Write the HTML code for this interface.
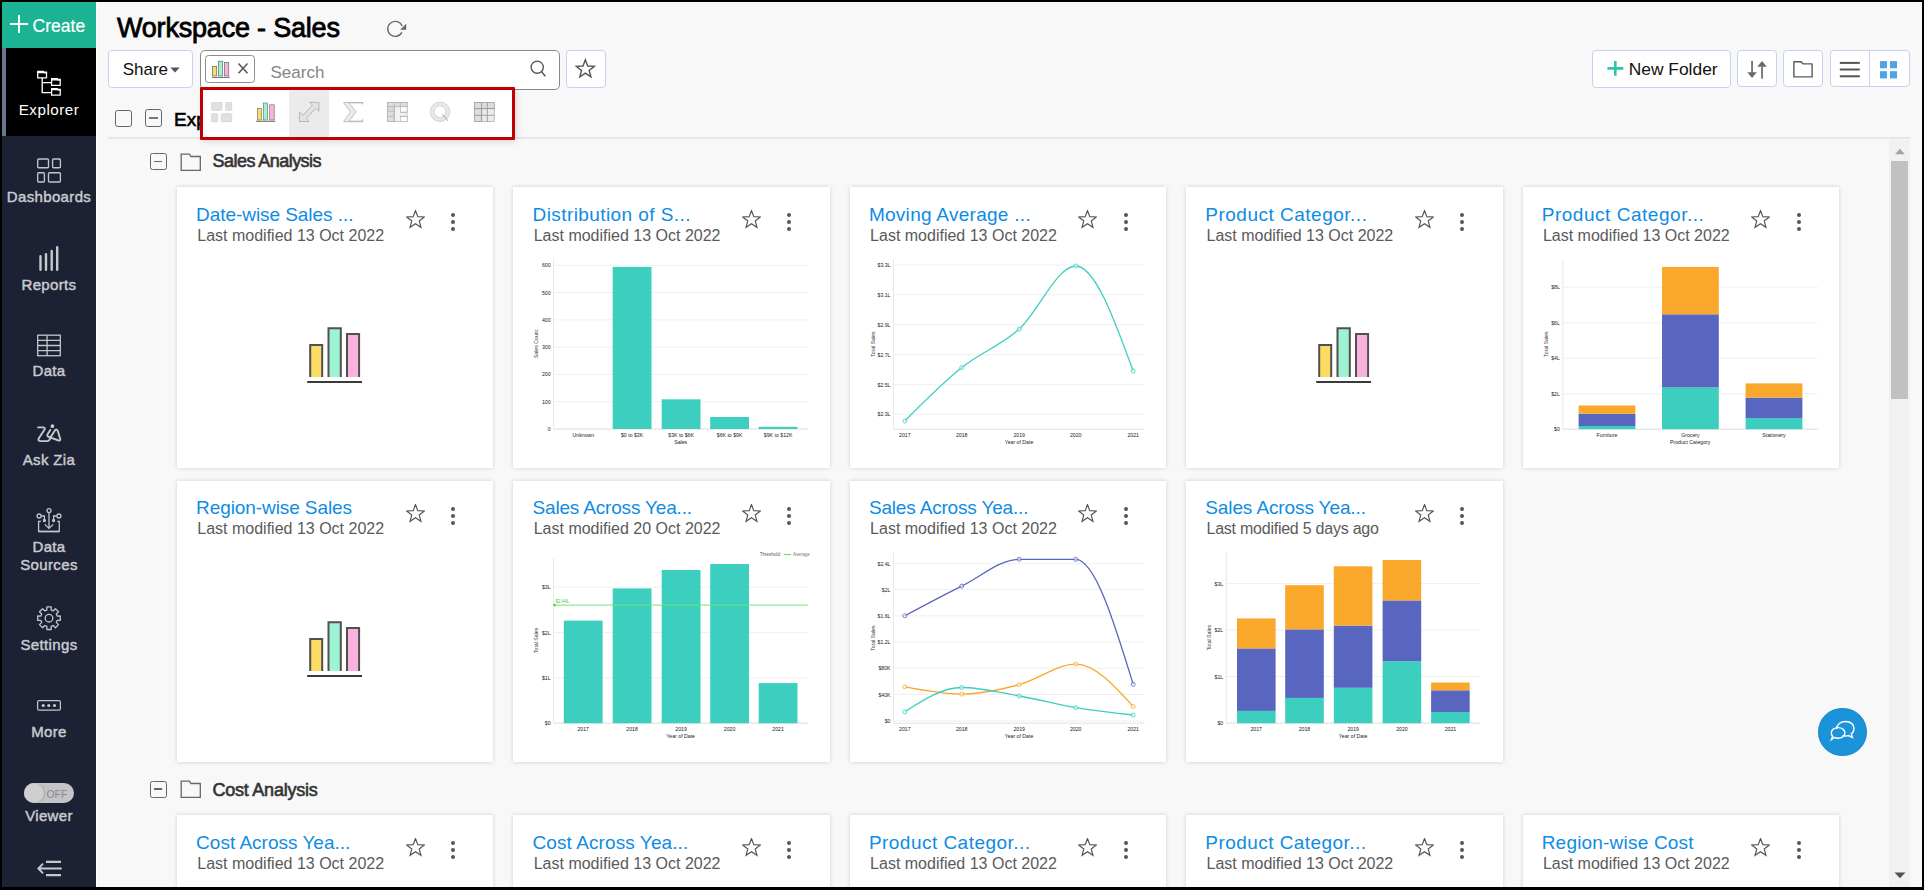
<!DOCTYPE html>
<html><head><meta charset="utf-8"><title>Workspace - Sales</title>
<style>
*{box-sizing:border-box;margin:0;padding:0}
html,body{width:1924px;height:890px;overflow:hidden;background:#000;font-family:"Liberation Sans",Arial,sans-serif}
#app{position:absolute;left:2px;top:2px;width:1920px;height:885px;background:#f8f8f8;overflow:hidden}
.a{position:absolute}
.t{position:absolute;line-height:1;white-space:nowrap}
svg{display:block}
/* sidebar */
#side{position:absolute;left:0;top:0;width:94px;height:885px;background:#1c2133}
#create{position:absolute;left:0;top:0;width:94px;height:46px;background:#1bb394}
#active{position:absolute;left:0;top:46px;width:94px;height:88px;background:#000}
#active b{position:absolute;left:0;top:0;width:4px;height:88px;background:#66788c}
.sl{position:absolute;left:0;width:94px;text-align:center;font-size:15px;letter-spacing:0.35px;line-height:1;color:#c9cbd0;white-space:nowrap;margin-top:0.1px;-webkit-text-stroke:0.45px currentColor}
/* buttons */
.btn{position:absolute;background:#fff;border:1px solid #c5d0ea;border-radius:4px}
/* cards */
.card{position:absolute;width:316.4px;height:281px;background:#fff;box-shadow:0 0 4px rgba(0,0,0,.17)}
.ct{position:absolute;left:19.1px;top:17.7px;font-size:19px;line-height:1;color:#0e8ce4;white-space:nowrap}
.cs{position:absolute;left:20.3px;top:40.5px;font-size:16px;line-height:1;color:#5a5a5a;white-space:nowrap}
.star{position:absolute;left:228.5px;top:23px}
.dots{position:absolute;left:274px;top:25.5px;width:4px;height:19px}
.dots i{display:block;width:4px;height:4px;border-radius:2px;background:#555;margin-bottom:3.3px}
.ph{position:absolute;left:130px;top:138px}
.r2 .ct{top:16.7px}
.r2 .cs{top:39.5px}
.chart{position:absolute;left:0;top:0}
</style></head>
<body>
<div id="app">
 <!-- ============ SIDEBAR ============ -->
 <div id="side">
  <div id="create"></div>
  <div id="active"><b></b></div>
  <svg class="a" style="left:0;top:0" width="94" height="885" viewBox="2 2 94 885">
   <path d="M19 15V33M10 24H28" stroke="#fff" stroke-width="1.9"/>
   <g fill="none" stroke="#fff" stroke-width="1.25">
    <path d="M37.7 72.6V77.8H46.5V72.6Z"/><path d="M37.1 71.6H43.3L44 72.4H47.1" stroke-width="1.8"/>
    <path d="M51.6 79.8V85.4H60.2V79.8Z"/><path d="M51 78.9H57.2L57.9 79.7H60.8" stroke-width="1.8"/>
    <path d="M51.6 89.7V95.2H60.2V89.7Z"/><path d="M51 88.8H57.2L57.9 89.6H60.8" stroke-width="1.8"/>
    <path d="M42.2 78V92.6H51M42.2 82.6H51" stroke-width="1.35"/>
   </g>
   <g fill="none" stroke="#c3c5ca" stroke-width="1.35">
    <rect x="37.7" y="159" width="10.8" height="8.7" rx="0.9"/>
    <rect x="52.6" y="159" width="7.8" height="8.7" rx="0.9"/>
    <rect x="37.7" y="172.7" width="6.7" height="9.3" rx="0.9"/>
    <rect x="48.5" y="172.7" width="11.9" height="9.3" rx="0.9"/>
   </g>
   <g stroke="#c8c9cd" stroke-width="2.4" stroke-linecap="round">
    <path d="M40.5 256.2V269.8M46 254.2V269.8M51.7 250.9V269.8M57.2 247.2V269.8"/>
   </g>
   <g fill="none" stroke="#c3c5ca" stroke-width="1.3">
    <rect x="37.7" y="335.2" width="22.6" height="20.5"/>
    <path d="M37.7 340.3H60.3M37.7 345.5H60.3M37.7 350.6H60.3M47.1 335.2V355.7"/>
   </g>
   <g fill="none" stroke="#c8c9cd" stroke-width="1.9" stroke-linecap="round" stroke-linejoin="round">
    <path d="M38.1 427.4H43.4Q45.6 427.6 44.4 429.8L38.7 438.4Q37.6 440.9 40.3 441.1H47.2Q48.7 441 49.7 439.5L50.6 437.7"/>
    <path d="M50.3 429.9L47.6 434.2Q46.6 436.3 48.7 436.9L58.6 440.5Q60.7 441 60.2 439L57.9 431.2Q56.9 428.4 55 430.3L50.6 437.3"/>
    <circle cx="52.4" cy="426.2" r="0.9" fill="#c8c9cd"/>
   </g>
   <g fill="none" stroke="#c3c5ca" stroke-width="1.3">
    <path d="M40.9 521.3H38.6V531.4H59.3V521.3H57.2"/>
    <path d="M38.6 531.6H59.3" stroke-width="1.6"/>
    <circle cx="49" cy="510.6" r="2"/>
    <path d="M49 512.6V528.3M44.8 524.4L49 528.4L53.2 524.4"/>
    <circle cx="39.1" cy="516" r="2"/><circle cx="58.9" cy="516" r="2"/>
    <path d="M41.1 516H44.4V520M56.9 516H53.6V520"/>
    <circle cx="44.4" cy="520.5" r="1" fill="#c3c5ca"/><circle cx="53.6" cy="520.5" r="1" fill="#c3c5ca"/>
   </g>
   <g fill="none" stroke="#c3c5ca" stroke-width="1.3" stroke-linejoin="round">
    <path d="M45.79 610.44L46.83 610.09L46.81 606.91L51.19 606.91L51.17 610.09L52.21 610.44L53.20 610.93L55.43 608.67L58.53 611.77L56.27 614.00L56.76 614.99L57.11 616.03L60.29 616.01L60.29 620.39L57.11 620.37L56.76 621.41L56.27 622.40L58.53 624.63L55.43 627.73L53.20 625.47L52.21 625.96L51.17 626.31L51.19 629.49L46.81 629.49L46.83 626.31L45.79 625.96L44.80 625.47L42.57 627.73L39.47 624.63L41.73 622.40L41.24 621.41L40.89 620.37L37.71 620.39L37.71 616.01L40.89 616.03L41.24 614.99L41.73 614.00L39.47 611.77L42.57 608.67L44.80 610.93Z"/>
    <circle cx="49" cy="618.2" r="3.8"/>
   </g>
   <g fill="none" stroke="#c3c5ca" stroke-width="1.25">
    <rect x="37.6" y="700.6" width="22.8" height="9.6" rx="1.6"/>
   </g>
   <g fill="#c8c9cd"><circle cx="43.2" cy="705.5" r="1.55"/><circle cx="48.8" cy="705.5" r="1.55"/><circle cx="54.5" cy="705.5" r="1.55"/></g>
   <g fill="none" stroke="#c8c9cd" stroke-width="1.9">
    <path d="M46 861.9H61M46 875.1H61" stroke-width="2.1"/>
    <path d="M38.6 868.5H61M42.6 864.2L38.4 868.5L42.6 872.8" stroke-linecap="round" stroke-linejoin="round"/>
   </g>
  </svg>
  <div class="t" style="left:30.6px;top:15.6px;font-size:17.5px;color:#fff;-webkit-text-stroke:0.2px #fff">Create</div>
  <div class="sl" style="top:100.2px;color:#fff;font-size:15.2px;letter-spacing:0.5px;-webkit-text-stroke:0;margin-top:0">Explorer</div>
  <div class="sl" style="top:186.8px">Dashboards</div>
  <div class="sl" style="top:275px">Reports</div>
  <div class="sl" style="top:361px">Data</div>
  <div class="sl" style="top:450px">Ask Zia</div>
  <div class="sl" style="top:537.2px">Data<br><span style="position:relative;top:3.1px">Sources</span></div>
  <div class="sl" style="top:635px">Settings</div>
  <div class="sl" style="top:722px">More</div>
  <!-- Viewer toggle -->
  <div class="a" style="left:21.8px;top:780.6px;width:50.4px;height:20.4px;border-radius:10.2px;background:#c4c4c6"></div>
  <div class="a" style="left:21.8px;top:780.6px;width:20.4px;height:20.4px;border-radius:10.2px;background:#cfcfd1;box-shadow:1px 0 1px rgba(0,0,0,.15)"></div>
  <div class="t" style="left:44.4px;top:786.6px;font-size:10.5px;color:#8a8a8c">OFF</div>
  <div class="sl" style="top:805.6px">Viewer</div>
 </div>

 <!-- ============ HEADER ============ -->
 <div class="a" style="left:94px;top:0;width:1px;height:885px;background:#fff"></div>
 <div class="t" style="left:115px;top:13.2px;font-size:27px;letter-spacing:-0.2px;color:#000;-webkit-text-stroke:0.8px #000">Workspace - Sales</div>
 <!-- share -->
 <div class="btn" style="left:105.9px;top:47.9px;width:84.8px;height:38.2px;border-color:#c7d2ee">
  <div class="t" style="left:13.8px;top:10px;font-size:17px;color:#111">Share</div>
 </div>
 <!-- search box -->
 <div class="a" style="left:198.4px;top:48.2px;width:360px;height:40px;background:#fff;border:1px solid #8a8a8a;border-radius:5px"></div>
 <div class="a" style="left:203.2px;top:53.2px;width:49.6px;height:27.5px;border:1px solid #8d8d8d;border-radius:3.5px;background:#fff"></div>
 <div class="t" style="left:268.5px;top:61.7px;font-size:17px;color:#858585">Search</div>
 <!-- star btn -->
 <div class="btn" style="left:564.2px;top:48.3px;width:39.5px;height:37.6px;border-color:#c7d2ee"></div>
 <!-- right buttons -->
 <div class="btn" style="left:1590.2px;top:48.4px;width:138.6px;height:37.4px;border-color:#c7d2ee">
  <div class="t" style="left:35.5px;top:9.6px;font-size:17.4px;color:#111">New Folder</div>
 </div>
 <div class="btn" style="left:1735.3px;top:48.4px;width:39.6px;height:36.4px;border-color:#c7d2ee"></div>
 <div class="btn" style="left:1781.3px;top:48.4px;width:39.6px;height:36.4px;border-color:#c7d2ee"></div>
 <div class="btn" style="left:1828.3px;top:48.4px;width:79.4px;height:36.4px;border-color:#c7d2ee">
  <div class="a" style="left:38.2px;top:0;width:1px;height:34.4px;background:#c7d2ee"></div>
 </div>
 <!-- explorer row -->
 <div class="a" style="left:113px;top:108.2px;width:16.8px;height:16.8px;border:1.3px solid #666;border-radius:2.8px"></div>
 <div class="a" style="left:143px;top:107.1px;width:17px;height:18px;border:1.3px solid #666;border-radius:2.8px"><div class="a" style="left:2.7px;top:7.3px;width:8.9px;height:1.8px;background:#777"></div></div>
 <div class="t" style="left:172px;top:107.9px;font-size:19px;color:#000;-webkit-text-stroke:0.6px #000">Explorer</div>
 <div class="a" style="left:106px;top:135px;width:1802px;height:2px;background:#e6e7e8"></div>
 <!-- header icons overlay (page coords) -->
 <svg class="a" style="left:0;top:0" width="1920" height="140" viewBox="2 2 1920 140">
  <g fill="none" stroke="#666" stroke-width="1.35">
   <path d="M402.25 26.1A7.5 7.5 0 1 0 401.9 32.4"/>
  </g>
  <polygon points="406.2,23.8 406.2,29.8 400.2,29.8" fill="#666"/>
  <path d="M170.4 67.6H179.7L175.05 72.6z" fill="#555"/>
  <!-- chip icon -->
  <g stroke="#666" stroke-width="0.7">
   <rect x="212.6" y="66.4" width="4.1" height="9.6" fill="#fddc63"/>
   <rect x="218.6" y="61.2" width="4.1" height="14.8" fill="#9ef3d4"/>
   <rect x="224.6" y="62.5" width="4.1" height="13.5" fill="#f9b3dc"/>
  </g>
  <rect x="212" y="77" width="17.8" height="1" fill="#777"/>
  <path d="M238.5 63.5L247.5 73.3M247.5 63.5L238.5 73.3" stroke="#555" stroke-width="1.5"/>
  <!-- search icon -->
  <g fill="none" stroke="#555" stroke-width="1.35">
   <circle cx="537.2" cy="67.2" r="6.1"/><path d="M541.6 71.8L545.4 76.2"/>
  </g>
  <polygon points="585.35,59.70 587.70,65.96 594.39,66.26 589.15,70.44 590.93,76.89 585.35,73.20 579.77,76.89 581.55,70.44 576.31,66.26 583.00,65.96" fill="none" stroke="#555" stroke-width="1.4" stroke-linejoin="miter"/>
  <!-- new folder plus -->
  <path d="M1615.3 61.1V75.8M1607.4 68.4H1623.3" stroke="#2ec4a5" stroke-width="2.6"/>
  <!-- sort -->
  <g fill="#6a6a6a">
   <rect x="1751.2" y="60.9" width="1.7" height="12"/><path d="M1747.3 72.3H1756.8L1752.05 78z"/>
   <rect x="1761.2" y="66.4" width="1.7" height="12.3"/><path d="M1757.3 66.7H1766.8L1762.05 61z"/>
  </g>
  <!-- folder -->
  <path d="M1793.9 61.7H1801.2L1803 63.9H1812.1V76.9H1793.9Z" fill="none" stroke="#5a5a5a" stroke-width="1.4" stroke-linejoin="round"/>
  <!-- list -->
  <g fill="#555"><rect x="1839.8" y="61.9" width="20" height="2"/><rect x="1839.8" y="68.5" width="20" height="2"/><rect x="1839.8" y="75.3" width="20" height="2"/></g>
  <!-- grid -->
  <g fill="#4da3e6"><rect x="1880" y="61.1" width="7" height="7.2"/><rect x="1890" y="61.1" width="7" height="7.2"/><rect x="1880" y="71.2" width="7" height="7.2"/><rect x="1890" y="71.2" width="7" height="7.2"/></g>
 </svg>

 <!-- ============ SCROLL CONTENT ============ -->
 <div class="a" id="content" style="left:-2px;top:-2px;width:1924px;height:889px;pointer-events:none">
  <div class="a" style="left:0;top:140px;width:1889px;height:747px;overflow:hidden">
   <div class="a" style="left:0;top:-140px;width:1889px;height:1100px">
    <!-- Sales Analysis -->
    <div class="a" style="left:150px;top:153.3px;width:16.8px;height:16.6px;border:1.3px solid #666;border-radius:2.5px"><div class="a" style="left:3.4px;top:6.3px;width:7.5px;height:1.4px;background:#666"></div></div>
    <svg class="a" style="left:180px;top:152.5px" width="22" height="19" viewBox="0 0 22 19" fill="none" stroke="#666" stroke-width="1.3"><path d="M1.2 1.2H9.4L10.9 3.5H20.3V17.3H1.2z"/></svg>
    <div class="t" style="left:212.6px;top:152.1px;font-size:18px;letter-spacing:-0.55px;color:#333;-webkit-text-stroke:0.6px #333">Sales Analysis</div>
    <!-- Cost Analysis -->
    <div class="a" style="left:150px;top:781.2px;width:16.8px;height:16.6px;border:1.3px solid #666;border-radius:2.5px"><div class="a" style="left:3.4px;top:6.3px;width:7.5px;height:1.4px;background:#666"></div></div>
    <svg class="a" style="left:180px;top:780.4px" width="22" height="19" viewBox="0 0 22 19" fill="none" stroke="#666" stroke-width="1.3"><path d="M1.2 1.2H9.4L10.9 3.5H20.3V17.3H1.2z"/></svg>
    <div class="t" style="left:212.6px;top:781px;font-size:18px;letter-spacing:-0.25px;color:#333;-webkit-text-stroke:0.6px #333">Cost Analysis</div>
    <div class="card" style="left:177.0px;top:187px"><div class="ct" style="letter-spacing:-0.06px">Date-wise Sales ...</div><div class="cs">Last modified 13 Oct 2022</div><div class="star"><svg width="19" height="19" viewBox="0 0 19 19"><polygon points="9.50,0.50 11.79,6.64 18.34,6.93 13.21,11.01 14.97,17.32 9.50,13.70 4.03,17.32 5.79,11.01 0.66,6.93 7.21,6.64" fill="none" stroke="#555" stroke-width="1.15" stroke-linejoin="miter"/></svg></div><div class="dots"><i></i><i></i><i></i></div><svg class="ph" width="60" height="60" viewBox="0 0 60 60"><path d="M3.2 52V20.1H15.2V52" fill="#fcdc62" stroke="#505050" stroke-width="2"/><path d="M21.5 52V3.2H33.8V52" fill="#9ef3d4" stroke="#505050" stroke-width="2"/><path d="M40 52V9.1H52.1V52" fill="#f9b1dd" stroke="#505050" stroke-width="2"/><rect x="0.2" y="56" width="54.8" height="2" fill="#3a3a3a"/></svg></div><div class="card" style="left:513.4px;top:187px"><div class="ct" style="letter-spacing:0.42px">Distribution of S...</div><div class="cs">Last modified 13 Oct 2022</div><div class="star"><svg width="19" height="19" viewBox="0 0 19 19"><polygon points="9.50,0.50 11.79,6.64 18.34,6.93 13.21,11.01 14.97,17.32 9.50,13.70 4.03,17.32 5.79,11.01 0.66,6.93 7.21,6.64" fill="none" stroke="#555" stroke-width="1.15" stroke-linejoin="miter"/></svg></div><div class="dots"><i></i><i></i><i></i></div><svg class="chart" width="316" height="281" viewBox="0 0 316 281" font-family="Liberation Sans, Arial, sans-serif"><line x1="40.6" y1="78.3" x2="294.8" y2="78.3" stroke="#efefef" stroke-width="1"/><line x1="40.6" y1="105.6" x2="294.8" y2="105.6" stroke="#efefef" stroke-width="1"/><line x1="40.6" y1="132.9" x2="294.8" y2="132.9" stroke="#efefef" stroke-width="1"/><line x1="40.6" y1="160.2" x2="294.8" y2="160.2" stroke="#efefef" stroke-width="1"/><line x1="40.6" y1="187.4" x2="294.8" y2="187.4" stroke="#efefef" stroke-width="1"/><line x1="40.6" y1="214.7" x2="294.8" y2="214.7" stroke="#efefef" stroke-width="1"/><line x1="40.6" y1="242.0" x2="294.8" y2="242.0" stroke="#efefef" stroke-width="1"/><line x1="40.6" y1="72" x2="40.6" y2="242.0" stroke="#e8e8e8" stroke-width="1"/><line x1="40.6" y1="242.0" x2="294.8" y2="242.0" stroke="#e2e2e2" stroke-width="1"/><text x="37.6" y="80.3" font-size="5.2" text-anchor="end" fill="#222" >600</text><text x="37.6" y="107.6" font-size="5.2" text-anchor="end" fill="#222" >500</text><text x="37.6" y="134.9" font-size="5.2" text-anchor="end" fill="#222" >400</text><text x="37.6" y="162.2" font-size="5.2" text-anchor="end" fill="#222" >300</text><text x="37.6" y="189.4" font-size="5.2" text-anchor="end" fill="#222" >200</text><text x="37.6" y="216.7" font-size="5.2" text-anchor="end" fill="#222" >100</text><text x="37.6" y="244.0" font-size="5.2" text-anchor="end" fill="#222" >0</text><text x="70.4" y="249.5" font-size="5.2" text-anchor="middle" fill="#222" >Unknown</text><text x="119.1" y="249.5" font-size="5.2" text-anchor="middle" fill="#222" >$0 to $3K</text><text x="168.1" y="249.5" font-size="5.2" text-anchor="middle" fill="#222" >$3K to $6K</text><text x="216.6" y="249.5" font-size="5.2" text-anchor="middle" fill="#222" >$6K to $9K</text><text x="265.1" y="249.5" font-size="5.2" text-anchor="middle" fill="#222" >$9K to $12K</text><text x="167.7" y="257.0" font-size="5.2" text-anchor="middle" fill="#222" >Sales</text><text x="0" y="0" font-size="5.2" text-anchor="middle" fill="#333" transform="translate(24.6,157.0) rotate(-90)">Sales Count</text><rect x="99.7" y="79.9" width="38.8" height="162.1" fill="#3ccfbf"/><rect x="148.7" y="212.3" width="38.8" height="29.7" fill="#3ccfbf"/><rect x="197.2" y="230.0" width="38.8" height="12.0" fill="#3ccfbf"/><rect x="245.7" y="239.8" width="38.8" height="2.2" fill="#3ccfbf"/></svg></div><div class="card" style="left:849.8px;top:187px"><div class="ct" style="letter-spacing:0.28px">Moving Average ...</div><div class="cs">Last modified 13 Oct 2022</div><div class="star"><svg width="19" height="19" viewBox="0 0 19 19"><polygon points="9.50,0.50 11.79,6.64 18.34,6.93 13.21,11.01 14.97,17.32 9.50,13.70 4.03,17.32 5.79,11.01 0.66,6.93 7.21,6.64" fill="none" stroke="#555" stroke-width="1.15" stroke-linejoin="miter"/></svg></div><div class="dots"><i></i><i></i><i></i></div><svg class="chart" width="316" height="281" viewBox="0 0 316 281" font-family="Liberation Sans, Arial, sans-serif"><line x1="43.5" y1="78.0" x2="294.5" y2="78.0" stroke="#efefef" stroke-width="1"/><line x1="43.5" y1="107.7" x2="294.5" y2="107.7" stroke="#efefef" stroke-width="1"/><line x1="43.5" y1="137.7" x2="294.5" y2="137.7" stroke="#efefef" stroke-width="1"/><line x1="43.5" y1="167.7" x2="294.5" y2="167.7" stroke="#efefef" stroke-width="1"/><line x1="43.5" y1="197.7" x2="294.5" y2="197.7" stroke="#efefef" stroke-width="1"/><line x1="43.5" y1="227.3" x2="294.5" y2="227.3" stroke="#efefef" stroke-width="1"/><line x1="43.5" y1="72" x2="43.5" y2="242.2" stroke="#e8e8e8" stroke-width="1"/><line x1="43.5" y1="242.2" x2="294.5" y2="242.2" stroke="#e2e2e2" stroke-width="1"/><text x="40.5" y="80.0" font-size="5.2" text-anchor="end" fill="#222" >$3.3L</text><text x="40.5" y="109.7" font-size="5.2" text-anchor="end" fill="#222" >$3.1L</text><text x="40.5" y="139.7" font-size="5.2" text-anchor="end" fill="#222" >$2.9L</text><text x="40.5" y="169.7" font-size="5.2" text-anchor="end" fill="#222" >$2.7L</text><text x="40.5" y="199.7" font-size="5.2" text-anchor="end" fill="#222" >$2.5L</text><text x="40.5" y="229.3" font-size="5.2" text-anchor="end" fill="#222" >$2.3L</text><text x="54.8" y="249.7" font-size="5.2" text-anchor="middle" fill="#222" >2017</text><text x="111.7" y="249.7" font-size="5.2" text-anchor="middle" fill="#222" >2018</text><text x="169.2" y="249.7" font-size="5.2" text-anchor="middle" fill="#222" >2019</text><text x="225.7" y="249.7" font-size="5.2" text-anchor="middle" fill="#222" >2020</text><text x="283.2" y="249.7" font-size="5.2" text-anchor="middle" fill="#222" >2021</text><text x="169.0" y="257.2" font-size="5.2" text-anchor="middle" fill="#222" >Year of Date</text><text x="0" y="0" font-size="5.2" text-anchor="middle" fill="#333" transform="translate(24.6,157.1) rotate(-90)">Total Sales</text><path d="M54.8,234.0 C73.8,214.9 92.7,195.9 111.7,180.6 C130.9,165.2 150.0,159.3 169.2,142.1 C188.0,125.2 206.9,79.0 225.7,79.0 C244.9,79.0 264.0,131.5 283.2,184.0" fill="none" stroke="#3ccfbf" stroke-width="1.3"/><circle cx="54.8" cy="234.0" r="2" fill="#fff" fill-opacity="0.5" stroke="#3ccfbf" stroke-width="0.8"/><circle cx="111.7" cy="180.6" r="2" fill="#fff" fill-opacity="0.5" stroke="#3ccfbf" stroke-width="0.8"/><circle cx="169.2" cy="142.1" r="2" fill="#fff" fill-opacity="0.5" stroke="#3ccfbf" stroke-width="0.8"/><circle cx="225.7" cy="79.0" r="2" fill="#fff" fill-opacity="0.5" stroke="#3ccfbf" stroke-width="0.8"/><circle cx="283.2" cy="184.0" r="2" fill="#fff" fill-opacity="0.5" stroke="#3ccfbf" stroke-width="0.8"/></svg></div><div class="card" style="left:1186.2px;top:187px"><div class="ct" style="letter-spacing:0.5px">Product Categor...</div><div class="cs">Last modified 13 Oct 2022</div><div class="star"><svg width="19" height="19" viewBox="0 0 19 19"><polygon points="9.50,0.50 11.79,6.64 18.34,6.93 13.21,11.01 14.97,17.32 9.50,13.70 4.03,17.32 5.79,11.01 0.66,6.93 7.21,6.64" fill="none" stroke="#555" stroke-width="1.15" stroke-linejoin="miter"/></svg></div><div class="dots"><i></i><i></i><i></i></div><svg class="ph" width="60" height="60" viewBox="0 0 60 60"><path d="M3.2 52V20.1H15.2V52" fill="#fcdc62" stroke="#505050" stroke-width="2"/><path d="M21.5 52V3.2H33.8V52" fill="#9ef3d4" stroke="#505050" stroke-width="2"/><path d="M40 52V9.1H52.1V52" fill="#f9b1dd" stroke="#505050" stroke-width="2"/><rect x="0.2" y="56" width="54.8" height="2" fill="#3a3a3a"/></svg></div><div class="card" style="left:1522.6px;top:187px"><div class="ct" style="letter-spacing:0.53px">Product Categor...</div><div class="cs">Last modified 13 Oct 2022</div><div class="star"><svg width="19" height="19" viewBox="0 0 19 19"><polygon points="9.50,0.50 11.79,6.64 18.34,6.93 13.21,11.01 14.97,17.32 9.50,13.70 4.03,17.32 5.79,11.01 0.66,6.93 7.21,6.64" fill="none" stroke="#555" stroke-width="1.15" stroke-linejoin="miter"/></svg></div><div class="dots"><i></i><i></i><i></i></div><svg class="chart" width="316" height="281" viewBox="0 0 316 281" font-family="Liberation Sans, Arial, sans-serif"><line x1="39.8" y1="100.1" x2="294.6" y2="100.1" stroke="#efefef" stroke-width="1"/><line x1="39.8" y1="135.8" x2="294.6" y2="135.8" stroke="#efefef" stroke-width="1"/><line x1="39.8" y1="171.1" x2="294.6" y2="171.1" stroke="#efefef" stroke-width="1"/><line x1="39.8" y1="206.8" x2="294.6" y2="206.8" stroke="#efefef" stroke-width="1"/><line x1="39.8" y1="242.2" x2="294.6" y2="242.2" stroke="#efefef" stroke-width="1"/><line x1="39.8" y1="72" x2="39.8" y2="242.2" stroke="#e8e8e8" stroke-width="1"/><line x1="39.8" y1="242.2" x2="294.6" y2="242.2" stroke="#e2e2e2" stroke-width="1"/><text x="36.8" y="102.1" font-size="5.2" text-anchor="end" fill="#222" >$8L</text><text x="36.8" y="137.8" font-size="5.2" text-anchor="end" fill="#222" >$6L</text><text x="36.8" y="173.1" font-size="5.2" text-anchor="end" fill="#222" >$4L</text><text x="36.8" y="208.8" font-size="5.2" text-anchor="end" fill="#222" >$2L</text><text x="36.8" y="244.2" font-size="5.2" text-anchor="end" fill="#222" >$0</text><text x="84.0" y="249.7" font-size="5.2" text-anchor="middle" fill="#222" >Furniture</text><text x="167.4" y="249.7" font-size="5.2" text-anchor="middle" fill="#222" >Grocery</text><text x="251.0" y="249.7" font-size="5.2" text-anchor="middle" fill="#222" >Stationery</text><text x="167.2" y="257.2" font-size="5.2" text-anchor="middle" fill="#222" >Product Category</text><text x="0" y="0" font-size="5.2" text-anchor="middle" fill="#333" transform="translate(24.6,157.1) rotate(-90)">Total Sales</text><rect x="55.6" y="239.0" width="56.8" height="3.2" fill="#3ccfbf"/><rect x="55.6" y="226.7" width="56.8" height="12.3" fill="#5866c0"/><rect x="55.6" y="218.5" width="56.8" height="8.2" fill="#f9a82b"/><rect x="139.0" y="200.5" width="56.8" height="41.7" fill="#3ccfbf"/><rect x="139.0" y="127.3" width="56.8" height="73.2" fill="#5866c0"/><rect x="139.0" y="79.9" width="56.8" height="47.4" fill="#f9a82b"/><rect x="222.6" y="231.1" width="56.8" height="11.1" fill="#3ccfbf"/><rect x="222.6" y="210.6" width="56.8" height="20.5" fill="#5866c0"/><rect x="222.6" y="196.4" width="56.8" height="14.2" fill="#f9a82b"/></svg></div><div class="card r2" style="left:177.0px;top:481px"><div class="ct" style="letter-spacing:-0.09px">Region-wise Sales</div><div class="cs">Last modified 13 Oct 2022</div><div class="star"><svg width="19" height="19" viewBox="0 0 19 19"><polygon points="9.50,0.50 11.79,6.64 18.34,6.93 13.21,11.01 14.97,17.32 9.50,13.70 4.03,17.32 5.79,11.01 0.66,6.93 7.21,6.64" fill="none" stroke="#555" stroke-width="1.15" stroke-linejoin="miter"/></svg></div><div class="dots"><i></i><i></i><i></i></div><svg class="ph" width="60" height="60" viewBox="0 0 60 60"><path d="M3.2 52V20.1H15.2V52" fill="#fcdc62" stroke="#505050" stroke-width="2"/><path d="M21.5 52V3.2H33.8V52" fill="#9ef3d4" stroke="#505050" stroke-width="2"/><path d="M40 52V9.1H52.1V52" fill="#f9b1dd" stroke="#505050" stroke-width="2"/><rect x="0.2" y="56" width="54.8" height="2" fill="#3a3a3a"/></svg></div><div class="card r2" style="left:513.4px;top:481px"><div class="ct" style="letter-spacing:-0.17px">Sales Across Yea...</div><div class="cs">Last modified 20 Oct 2022</div><div class="star"><svg width="19" height="19" viewBox="0 0 19 19"><polygon points="9.50,0.50 11.79,6.64 18.34,6.93 13.21,11.01 14.97,17.32 9.50,13.70 4.03,17.32 5.79,11.01 0.66,6.93 7.21,6.64" fill="none" stroke="#555" stroke-width="1.15" stroke-linejoin="miter"/></svg></div><div class="dots"><i></i><i></i><i></i></div><svg class="chart" width="316" height="281" viewBox="0 0 316 281" font-family="Liberation Sans, Arial, sans-serif"><line x1="40.6" y1="106.1" x2="294.8" y2="106.1" stroke="#efefef" stroke-width="1"/><line x1="40.6" y1="151.6" x2="294.8" y2="151.6" stroke="#efefef" stroke-width="1"/><line x1="40.6" y1="197.0" x2="294.8" y2="197.0" stroke="#efefef" stroke-width="1"/><line x1="40.6" y1="242.2" x2="294.8" y2="242.2" stroke="#efefef" stroke-width="1"/><line x1="40.6" y1="76.7" x2="40.6" y2="242.2" stroke="#e8e8e8" stroke-width="1"/><line x1="40.6" y1="242.2" x2="294.8" y2="242.2" stroke="#e2e2e2" stroke-width="1"/><text x="37.6" y="108.1" font-size="5.2" text-anchor="end" fill="#222" >$3L</text><text x="37.6" y="153.6" font-size="5.2" text-anchor="end" fill="#222" >$2L</text><text x="37.6" y="199.0" font-size="5.2" text-anchor="end" fill="#222" >$1L</text><text x="37.6" y="244.2" font-size="5.2" text-anchor="end" fill="#222" >$0</text><text x="70.2" y="249.7" font-size="5.2" text-anchor="middle" fill="#222" >2017</text><text x="119.1" y="249.7" font-size="5.2" text-anchor="middle" fill="#222" >2018</text><text x="168.1" y="249.7" font-size="5.2" text-anchor="middle" fill="#222" >2019</text><text x="216.6" y="249.7" font-size="5.2" text-anchor="middle" fill="#222" >2020</text><text x="265.1" y="249.7" font-size="5.2" text-anchor="middle" fill="#222" >2021</text><text x="167.7" y="257.2" font-size="5.2" text-anchor="middle" fill="#222" >Year of Date</text><text x="0" y="0" font-size="5.2" text-anchor="middle" fill="#333" transform="translate(24.6,159.4) rotate(-90)">Total Sales</text><rect x="50.8" y="139.6" width="38.8" height="102.6" fill="#3ccfbf"/><rect x="99.7" y="107.4" width="38.8" height="134.8" fill="#3ccfbf"/><rect x="148.7" y="89.0" width="38.8" height="153.2" fill="#3ccfbf"/><rect x="197.2" y="83.0" width="38.8" height="159.2" fill="#3ccfbf"/><rect x="245.7" y="202.1" width="38.8" height="40.1" fill="#3ccfbf"/><line x1="40.6" y1="124.1" x2="294.8" y2="124.1" stroke="#74e274" stroke-width="1"/><circle cx="41.6" cy="124.1" r="1.3" fill="#4cd04c"/><text x="42.6" y="121.5" font-size="4.5" text-anchor="start" fill="#4cc84c" >$2.44L</text><text x="268.0" y="75.0" font-size="4.5" text-anchor="end" fill="#555" >Threshold:</text><line x1="271" y1="73.5" x2="278" y2="73.5" stroke="#6be06b" stroke-width="1.2"/><text x="280.0" y="75.0" font-size="4.5" text-anchor="start" fill="#777" >Average</text></svg></div><div class="card r2" style="left:849.8px;top:481px"><div class="ct" style="letter-spacing:-0.17px">Sales Across Yea...</div><div class="cs">Last modified 13 Oct 2022</div><div class="star"><svg width="19" height="19" viewBox="0 0 19 19"><polygon points="9.50,0.50 11.79,6.64 18.34,6.93 13.21,11.01 14.97,17.32 9.50,13.70 4.03,17.32 5.79,11.01 0.66,6.93 7.21,6.64" fill="none" stroke="#555" stroke-width="1.15" stroke-linejoin="miter"/></svg></div><div class="dots"><i></i><i></i><i></i></div><svg class="chart" width="316" height="281" viewBox="0 0 316 281" font-family="Liberation Sans, Arial, sans-serif"><line x1="43.5" y1="82.7" x2="294.5" y2="82.7" stroke="#efefef" stroke-width="1"/><line x1="43.5" y1="108.6" x2="294.5" y2="108.6" stroke="#efefef" stroke-width="1"/><line x1="43.5" y1="134.8" x2="294.5" y2="134.8" stroke="#efefef" stroke-width="1"/><line x1="43.5" y1="161.0" x2="294.5" y2="161.0" stroke="#efefef" stroke-width="1"/><line x1="43.5" y1="187.2" x2="294.5" y2="187.2" stroke="#efefef" stroke-width="1"/><line x1="43.5" y1="213.5" x2="294.5" y2="213.5" stroke="#efefef" stroke-width="1"/><line x1="43.5" y1="240.0" x2="294.5" y2="240.0" stroke="#efefef" stroke-width="1"/><line x1="43.5" y1="72" x2="43.5" y2="242.2" stroke="#e8e8e8" stroke-width="1"/><line x1="43.5" y1="242.2" x2="294.5" y2="242.2" stroke="#e2e2e2" stroke-width="1"/><text x="40.5" y="84.7" font-size="5.2" text-anchor="end" fill="#222" >$2.4L</text><text x="40.5" y="110.6" font-size="5.2" text-anchor="end" fill="#222" >$2L</text><text x="40.5" y="136.8" font-size="5.2" text-anchor="end" fill="#222" >$1.6L</text><text x="40.5" y="163.0" font-size="5.2" text-anchor="end" fill="#222" >$1.2L</text><text x="40.5" y="189.2" font-size="5.2" text-anchor="end" fill="#222" >$80K</text><text x="40.5" y="215.5" font-size="5.2" text-anchor="end" fill="#222" >$40K</text><text x="40.5" y="242.0" font-size="5.2" text-anchor="end" fill="#222" >$0</text><text x="54.8" y="249.7" font-size="5.2" text-anchor="middle" fill="#222" >2017</text><text x="111.7" y="249.7" font-size="5.2" text-anchor="middle" fill="#222" >2018</text><text x="169.2" y="249.7" font-size="5.2" text-anchor="middle" fill="#222" >2019</text><text x="225.7" y="249.7" font-size="5.2" text-anchor="middle" fill="#222" >2020</text><text x="283.2" y="249.7" font-size="5.2" text-anchor="middle" fill="#222" >2021</text><text x="169.0" y="257.2" font-size="5.2" text-anchor="middle" fill="#222" >Year of Date</text><text x="0" y="0" font-size="5.2" text-anchor="middle" fill="#333" transform="translate(24.6,157.1) rotate(-90)">Total Sales</text><path d="M54.8,134.8 C73.8,124.6 92.7,114.5 111.7,105.1 C130.9,95.6 150.0,78.3 169.2,78.3 C188.0,78.3 206.9,78.3 225.7,78.3 C244.9,78.3 264.0,140.8 283.2,203.3" fill="none" stroke="#5866c0" stroke-width="1.3"/><circle cx="54.8" cy="134.8" r="2" fill="#fff" fill-opacity="0.5" stroke="#5866c0" stroke-width="0.8"/><circle cx="111.7" cy="105.1" r="2" fill="#fff" fill-opacity="0.5" stroke="#5866c0" stroke-width="0.8"/><circle cx="169.2" cy="78.3" r="2" fill="#fff" fill-opacity="0.5" stroke="#5866c0" stroke-width="0.8"/><circle cx="225.7" cy="78.3" r="2" fill="#fff" fill-opacity="0.5" stroke="#5866c0" stroke-width="0.8"/><circle cx="283.2" cy="203.3" r="2" fill="#fff" fill-opacity="0.5" stroke="#5866c0" stroke-width="0.8"/><path d="M54.8,205.9 C73.8,209.5 92.7,213.1 111.7,213.1 C130.9,213.1 150.0,208.8 169.2,203.7 C188.0,198.7 206.9,183.1 225.7,183.1 C244.9,183.1 264.0,204.3 283.2,225.5" fill="none" stroke="#f9a82b" stroke-width="1.3"/><circle cx="54.8" cy="205.9" r="2" fill="#fff" fill-opacity="0.5" stroke="#f9a82b" stroke-width="0.8"/><circle cx="111.7" cy="213.1" r="2" fill="#fff" fill-opacity="0.5" stroke="#f9a82b" stroke-width="0.8"/><circle cx="169.2" cy="203.7" r="2" fill="#fff" fill-opacity="0.5" stroke="#f9a82b" stroke-width="0.8"/><circle cx="225.7" cy="183.1" r="2" fill="#fff" fill-opacity="0.5" stroke="#f9a82b" stroke-width="0.8"/><circle cx="283.2" cy="225.5" r="2" fill="#fff" fill-opacity="0.5" stroke="#f9a82b" stroke-width="0.8"/><path d="M54.8,230.8 C73.8,218.7 92.7,206.5 111.7,206.5 C130.9,206.5 150.0,211.6 169.2,215.0 C188.0,218.3 206.9,223.5 225.7,226.7 C244.9,229.9 264.0,232.0 283.2,234.0" fill="none" stroke="#3ccfbf" stroke-width="1.3"/><circle cx="54.8" cy="230.8" r="2" fill="#fff" fill-opacity="0.5" stroke="#3ccfbf" stroke-width="0.8"/><circle cx="111.7" cy="206.5" r="2" fill="#fff" fill-opacity="0.5" stroke="#3ccfbf" stroke-width="0.8"/><circle cx="169.2" cy="215.0" r="2" fill="#fff" fill-opacity="0.5" stroke="#3ccfbf" stroke-width="0.8"/><circle cx="225.7" cy="226.7" r="2" fill="#fff" fill-opacity="0.5" stroke="#3ccfbf" stroke-width="0.8"/><circle cx="283.2" cy="234.0" r="2" fill="#fff" fill-opacity="0.5" stroke="#3ccfbf" stroke-width="0.8"/></svg></div><div class="card r2" style="left:1186.2px;top:481px"><div class="ct" style="letter-spacing:-0.11px">Sales Across Yea...</div><div class="cs" style="letter-spacing:-0.24px">Last modified 5 days ago</div><div class="star"><svg width="19" height="19" viewBox="0 0 19 19"><polygon points="9.50,0.50 11.79,6.64 18.34,6.93 13.21,11.01 14.97,17.32 9.50,13.70 4.03,17.32 5.79,11.01 0.66,6.93 7.21,6.64" fill="none" stroke="#555" stroke-width="1.15" stroke-linejoin="miter"/></svg></div><div class="dots"><i></i><i></i><i></i></div><svg class="chart" width="316" height="281" viewBox="0 0 316 281" font-family="Liberation Sans, Arial, sans-serif"><line x1="40.2" y1="102.6" x2="294.1" y2="102.6" stroke="#efefef" stroke-width="1"/><line x1="40.2" y1="149.0" x2="294.1" y2="149.0" stroke="#efefef" stroke-width="1"/><line x1="40.2" y1="195.5" x2="294.1" y2="195.5" stroke="#efefef" stroke-width="1"/><line x1="40.2" y1="242.2" x2="294.1" y2="242.2" stroke="#efefef" stroke-width="1"/><line x1="40.2" y1="71" x2="40.2" y2="242.2" stroke="#e8e8e8" stroke-width="1"/><line x1="40.2" y1="242.2" x2="294.1" y2="242.2" stroke="#e2e2e2" stroke-width="1"/><text x="37.2" y="104.6" font-size="5.2" text-anchor="end" fill="#222" >$3L</text><text x="37.2" y="151.0" font-size="5.2" text-anchor="end" fill="#222" >$2L</text><text x="37.2" y="197.5" font-size="5.2" text-anchor="end" fill="#222" >$1L</text><text x="37.2" y="244.2" font-size="5.2" text-anchor="end" fill="#222" >$0</text><text x="70.2" y="249.7" font-size="5.2" text-anchor="middle" fill="#222" >2017</text><text x="118.5" y="249.7" font-size="5.2" text-anchor="middle" fill="#222" >2018</text><text x="167.2" y="249.7" font-size="5.2" text-anchor="middle" fill="#222" >2019</text><text x="215.9" y="249.7" font-size="5.2" text-anchor="middle" fill="#222" >2020</text><text x="264.4" y="249.7" font-size="5.2" text-anchor="middle" fill="#222" >2021</text><text x="167.2" y="257.2" font-size="5.2" text-anchor="middle" fill="#222" >Year of Date</text><text x="0" y="0" font-size="5.2" text-anchor="middle" fill="#333" transform="translate(24.6,156.6) rotate(-90)">Total Sales</text><rect x="51.0" y="229.9" width="38.6" height="12.3" fill="#3ccfbf"/><rect x="51.0" y="167.4" width="38.6" height="62.5" fill="#5866c0"/><rect x="51.0" y="137.4" width="38.6" height="30.0" fill="#f9a82b"/><rect x="99.2" y="216.9" width="38.6" height="25.3" fill="#3ccfbf"/><rect x="99.2" y="148.4" width="38.6" height="68.5" fill="#5866c0"/><rect x="99.2" y="104.2" width="38.6" height="44.2" fill="#f9a82b"/><rect x="147.8" y="206.8" width="38.6" height="35.4" fill="#3ccfbf"/><rect x="147.8" y="144.6" width="38.6" height="62.2" fill="#5866c0"/><rect x="147.8" y="85.3" width="38.6" height="59.3" fill="#f9a82b"/><rect x="196.6" y="180.3" width="38.6" height="61.9" fill="#3ccfbf"/><rect x="196.6" y="119.4" width="38.6" height="60.9" fill="#5866c0"/><rect x="196.6" y="79.0" width="38.6" height="40.4" fill="#f9a82b"/><rect x="245.1" y="231.1" width="38.6" height="11.1" fill="#3ccfbf"/><rect x="245.1" y="209.3" width="38.6" height="21.8" fill="#5866c0"/><rect x="245.1" y="201.5" width="38.6" height="7.8" fill="#f9a82b"/></svg></div><div class="card" style="left:177.0px;top:815px"><div class="ct">Cost Across Yea...</div><div class="cs">Last modified 13 Oct 2022</div><div class="star"><svg width="19" height="19" viewBox="0 0 19 19"><polygon points="9.50,0.50 11.79,6.64 18.34,6.93 13.21,11.01 14.97,17.32 9.50,13.70 4.03,17.32 5.79,11.01 0.66,6.93 7.21,6.64" fill="none" stroke="#555" stroke-width="1.15" stroke-linejoin="miter"/></svg></div><div class="dots"><i></i><i></i><i></i></div></div><div class="card" style="left:513.4px;top:815px"><div class="ct" style="letter-spacing:0.09px">Cost Across Yea...</div><div class="cs">Last modified 13 Oct 2022</div><div class="star"><svg width="19" height="19" viewBox="0 0 19 19"><polygon points="9.50,0.50 11.79,6.64 18.34,6.93 13.21,11.01 14.97,17.32 9.50,13.70 4.03,17.32 5.79,11.01 0.66,6.93 7.21,6.64" fill="none" stroke="#555" stroke-width="1.15" stroke-linejoin="miter"/></svg></div><div class="dots"><i></i><i></i><i></i></div></div><div class="card" style="left:849.8px;top:815px"><div class="ct" style="letter-spacing:0.47px">Product Categor...</div><div class="cs">Last modified 13 Oct 2022</div><div class="star"><svg width="19" height="19" viewBox="0 0 19 19"><polygon points="9.50,0.50 11.79,6.64 18.34,6.93 13.21,11.01 14.97,17.32 9.50,13.70 4.03,17.32 5.79,11.01 0.66,6.93 7.21,6.64" fill="none" stroke="#555" stroke-width="1.15" stroke-linejoin="miter"/></svg></div><div class="dots"><i></i><i></i><i></i></div></div><div class="card" style="left:1186.2px;top:815px"><div class="ct" style="letter-spacing:0.45px">Product Categor...</div><div class="cs">Last modified 13 Oct 2022</div><div class="star"><svg width="19" height="19" viewBox="0 0 19 19"><polygon points="9.50,0.50 11.79,6.64 18.34,6.93 13.21,11.01 14.97,17.32 9.50,13.70 4.03,17.32 5.79,11.01 0.66,6.93 7.21,6.64" fill="none" stroke="#555" stroke-width="1.15" stroke-linejoin="miter"/></svg></div><div class="dots"><i></i><i></i><i></i></div></div><div class="card" style="left:1522.6px;top:815px"><div class="ct" style="letter-spacing:0.2px">Region-wise Cost</div><div class="cs">Last modified 13 Oct 2022</div><div class="star"><svg width="19" height="19" viewBox="0 0 19 19"><polygon points="9.50,0.50 11.79,6.64 18.34,6.93 13.21,11.01 14.97,17.32 9.50,13.70 4.03,17.32 5.79,11.01 0.66,6.93 7.21,6.64" fill="none" stroke="#555" stroke-width="1.15" stroke-linejoin="miter"/></svg></div><div class="dots"><i></i><i></i><i></i></div></div>
   </div>
  </div>
  <!-- scrollbar -->
  <div class="a" style="left:1889px;top:140px;width:21px;height:747px;background:#f1f1f1"></div>
  <svg class="a" style="left:1893px;top:148px" width="14" height="7" viewBox="0 0 14 7"><path d="M2 6.2H11.8L6.9 0.8z" fill="#a3a3a3"/></svg>
  <div class="a" style="left:1891px;top:161px;width:17px;height:238px;background:#c1c1c1"></div>
  <svg class="a" style="left:1893px;top:872px" width="14" height="7" viewBox="0 0 14 7"><path d="M1.5 0.6H12.4L6.95 6.2z" fill="#505050"/></svg>
  <!-- chat bubble -->
  <div class="a" style="left:1818px;top:708px;width:48.5px;height:48px;border-radius:50%;background:#1a93d9;border:1px solid #1787c8"></div>
  <svg class="a" style="left:1828px;top:718px" width="30" height="28" viewBox="0 0 30 28" fill="none" stroke="#fff" stroke-width="1.45">
   <path d="M8.4 11.2C9 6.5 12.6 3.4 17.6 3.4C22.5 3.4 26 6.4 26 10.6C26 13.4 24.8 15 23.4 16.1L24.4 19.5L20.4 17.6C19.6 17.8 18.6 17.9 17.6 17.9C16.6 17.9 15.4 17.8 14.6 17.3"/>
   <path d="M3.3 14.9C3.3 11.8 6.3 9.6 10.1 9.6C13.9 9.6 16.9 11.8 16.9 14.9C16.9 18 13.9 20.2 10.1 20.2C8.6 20.2 7.4 20 6.3 19.5L3.5 21.5L4.6 18.3C3.8 17.3 3.3 16.2 3.3 14.9z"/>
  </svg>
 </div>

 <!-- ============ POPUP (red box) ============ -->
 <div class="a" style="left:198px;top:85px;width:315px;height:53px;background:#fff;border:3px solid #c00000;border-radius:1px;box-shadow:2px 2px 6px rgba(0,0,0,.12)">
  <div class="a" style="left:86px;top:0;width:40px;height:47px;background:#ebebeb"></div>
  <!-- icon 1 grid -->
  <svg class="a" style="left:8px;top:12px" width="22" height="21" viewBox="0 0 22 21" fill="#e0e0e0" stroke="#d2d2d2" stroke-width="0.8">
   <rect x="0.6" y="0.4" width="10.4" height="7.9" rx="0.8"/><rect x="14.6" y="0.4" width="6.1" height="7.9" rx="0.8"/>
   <rect x="0.6" y="11.7" width="6.1" height="8" rx="0.8"/><rect x="10.3" y="11.7" width="10.4" height="8" rx="0.8"/>
  </svg>
  <!-- icon 2 bars -->
  <svg class="a" style="left:53px;top:12.3px" width="22" height="21" viewBox="0 0 22 21">
   <rect x="1.3" y="6.5" width="4.3" height="11.5" fill="#fddc63" stroke="#666" stroke-width="0.6"/>
   <rect x="7.3" y="1" width="4.3" height="17" fill="#9ef3d4" stroke="#666" stroke-width="0.6"/>
   <rect x="13.7" y="2.8" width="4.5" height="15.2" fill="#f9b3dc" stroke="#666" stroke-width="0.6"/>
   <rect x="0" y="18.8" width="19.2" height="1" fill="#666"/>
  </svg>
  <!-- icon 3 double arrow -->
  <svg class="a" style="left:96px;top:11px" width="22" height="22" viewBox="0 0 22 22" fill="#e3e3e3" stroke="#b0b0b0" stroke-width="0.9" stroke-linejoin="miter">
   <path d="M10.8 1.4H19.9V10.3L16.7 7.3L7.3 17.4L9.8 20.5H0.4V10.8L3.9 14.4L13.5 4.3Z"/>
  </svg>
  <!-- icon 4 sigma -->
  <svg class="a" style="left:140px;top:12px" width="22" height="22" viewBox="0 0 22 22" fill="#ececec" stroke="#aaa" stroke-width="0.7" stroke-linejoin="round">
   <path d="M0.5 0.5H19.8V2.2H19.4V0.9H6L13.1 9.8L6 19.1H19.4V17.6H19.8V19.7H0.5L7.6 9.9z"/>
  </svg>
  <!-- icon 5 pivot -->
  <svg class="a" style="left:184px;top:12px" width="22" height="22" viewBox="0 0 22 22" stroke="#aaa" stroke-width="0.6">
   <rect x="0.6" y="0.6" width="19.5" height="19" fill="#f2f2f2"/>
   <rect x="0.6" y="0.6" width="19.5" height="4.2" fill="#ddd"/>
   <rect x="0.6" y="4.8" width="6.6" height="14.8" fill="#ddd"/>
   <rect x="13.4" y="4.8" width="6.7" height="5.4" fill="#fff"/>
   <rect x="13.4" y="14.4" width="6.7" height="5.2" fill="#fff"/>
   <path d="M7.2 0.6V19.6M13.4 0.6V4.8M0.6 9.2H7.2M0.6 14.4H7.2M13.4 10.2H20.1M13.4 14.4H20.1" fill="none"/>
  </svg>
  <!-- icon 6 Q -->
  <svg class="a" style="left:227px;top:12px" width="22" height="22" viewBox="0 0 22 22">
   <circle cx="10" cy="9.7" r="7.8" fill="none" stroke="#e8e8e8" stroke-width="4"/>
   <circle cx="10" cy="9.7" r="9.8" fill="none" stroke="#bdbdbd" stroke-width="0.6"/>
   <circle cx="10" cy="9.7" r="5.8" fill="none" stroke="#c2c2c2" stroke-width="0.6"/>
   <path d="M12.3 12.1L17.9 18.9" stroke="#8f8f8f" stroke-width="0.8"/>
  </svg>
  <!-- icon 7 table -->
  <svg class="a" style="left:271px;top:12px" width="22" height="22" viewBox="0 0 22 22" stroke="#999" stroke-width="0.6">
   <rect x="0.6" y="0.6" width="19.6" height="19" fill="#ececec"/>
   <rect x="0.6" y="0.6" width="7" height="19" fill="#ddd"/>
   <rect x="0.6" y="0.6" width="19.6" height="6" fill="#ddd"/>
   <path d="M7.6 0.6V19.6M13.3 0.6V19.6M0.6 6.6H20.2M0.6 13.3H20.2" fill="none" stroke-width="0.9"/>
  </svg>
 </div>
</div>
<script>
</script>
</body></html>
